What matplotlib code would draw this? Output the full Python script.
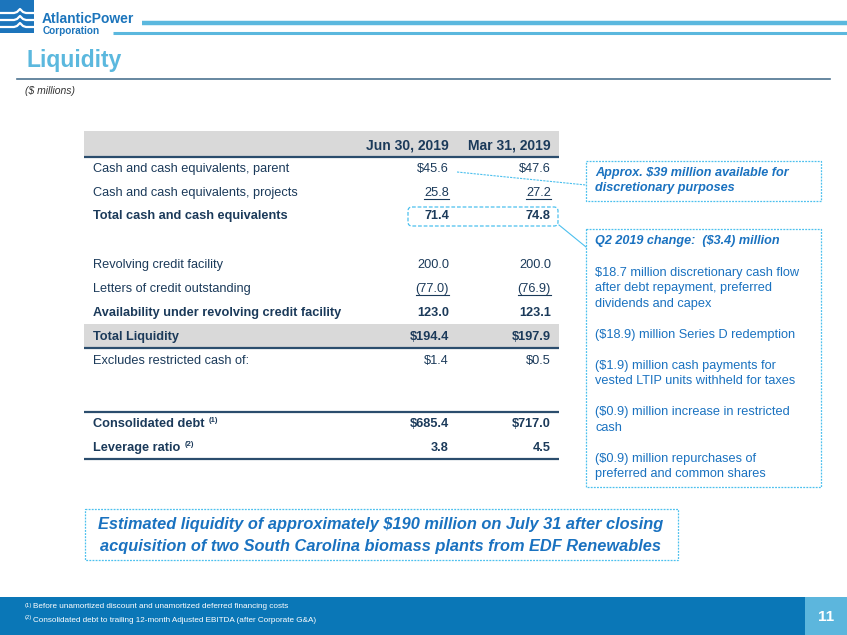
import matplotlib
matplotlib.use("Agg")
import matplotlib.pyplot as plt  # noqa: E402
from matplotlib.patches import Rectangle, FancyBboxPatch  # noqa: E402

plt.rcParams["font.family"] = ["Liberation Sans", "DejaVu Sans"]

# ---- data -------------------------------------------------------------
col_headers = ["Jun 30, 2019", "Mar 31, 2019"]
row_labels = [
    "Cash and cash equivalents, parent",
    "Cash and cash equivalents, projects",
    "Total cash and cash equivalents",
    "Revolving credit facility",
    "Letters of credit outstanding",
    "Availability under revolving credit facility",
    "Total Liquidity",
    "Excludes restricted cash of:",
    "Consolidated debt",
    "Leverage ratio",
]
row_notes = ["", "", "", "", "", "", "", "", "(1)", "(2)"]
jun_vals = ["$45.6", "25.8", "71.4", "200.0", "(77.0)", "123.0", "$194.4", "$1.4", "$685.4", "3.8"]
mar_vals = ["$47.6", "27.2", "74.8", "200.0", "(76.9)", "123.1", "$197.9", "$0.5", "$717.0", "4.5"]
row_bold = [False, False, True, False, False, True, True, False, True, True]
row_under = [False, True, False, False, True, False, False, False, False, False]

note1 = ["Approx. $39 million available for", "discretionary purposes"]
note2_head = "Q2 2019 change:  ($3.4) million"
note2_items = [
    ["$18.7 million discretionary cash flow", "after debt repayment, preferred", "dividends and capex"],
    ["($18.9) million Series D redemption"],
    ["($1.9) million cash payments for", "vested LTIP units withheld for taxes"],
    ["($0.9) million increase in restricted", "cash"],
    ["($0.9) million repurchases of", "preferred and common shares"],
]
banner = ["Estimated liquidity of approximately $190 million on July 31 after closing",
          "acquisition of two South Carolina biomass plants from EDF Renewables"]
footnotes = [("(1)", "Before unamortized discount and unamortized deferred financing costs"),
             ("(2)", "Consolidated debt to trailing 12-month Adjusted EBITDA (after Corporate G&A)")]
page_no = "11"

# ---- layout -----------------------------------------------------------
row_y = [169, 193, 216, 265, 289, 313, 337, 361, 424, 448]
NAVY = "#1b3a5a"
LINE = "#2b4d6d"
GREY = "#d9d9d9"
LIGHT = "#5bb8de"
BLUE = "#1c75bc"
CALL = "#1a72c0"
DASH = "#4cc0ee"

W, H = 847, 635
fig = plt.figure(figsize=(W / 100, H / 100), dpi=100)
ax = fig.add_axes([0, 0, 1, 1])
ax.set_xlim(0, W)
ax.set_ylim(H, 0)
ax.axis("off")

# logo
ax.add_patch(Rectangle((0, 0), 34, 33, color=BLUE, lw=0))
for yy in (13, 20, 27):
    ax.plot([0, 14, 17, 20, 23, 26, 34], [yy, yy, yy - 1, yy - 4, yy - 1, yy, yy],
            color="white", lw=1.6, solid_capstyle="butt")
ax.text(42, 19, "AtlanticPower", fontsize=10, fontweight="bold", color=BLUE,
        va="center", ha="left")
ax.text(43, 31, "Corporation", fontsize=7.2, fontweight="bold", color=BLUE,
        va="center", ha="left")
ax.plot([142, W], [22.5, 22.5], color=LIGHT, lw=3.2, solid_capstyle="butt")
ax.plot([113, W], [33, 33], color=LIGHT, lw=2.2, solid_capstyle="butt")

# title
ax.text(26, 61, "Liquidity", fontsize=16.5, fontweight="bold", color=LIGHT,
        va="center", ha="left")
ax.plot([17, 830], [79, 79], color="#4d7390", lw=1.2)
ax.text(25, 91, "($ millions)", fontsize=7.5, style="italic", color="#333333",
        va="center", ha="left")

# table
x0, x1 = 84, 559
xl, xj, xm = 93, 449, 551
ax.add_patch(Rectangle((x0, 131), x1 - x0, 25, color=GREY, lw=0))
ax.add_patch(Rectangle((x0, 324), x1 - x0, 24, color=GREY, lw=0))
for yy in (157, 348, 412, 459):
    ax.plot([x0, x1], [yy, yy], color=LINE, lw=1.6, solid_capstyle="butt")
ax.text(xj, 145, col_headers[0], fontsize=10, fontweight="bold", color=NAVY,
        ha="right", va="center")
ax.text(xm, 145, col_headers[1], fontsize=10, fontweight="bold", color=NAVY,
        ha="right", va="center")

fig.canvas.draw()
rend = fig.canvas.get_renderer()

for lab, note, jv, mv, b, u, yy in zip(row_labels, row_notes, jun_vals, mar_vals,
                                      row_bold, row_under, row_y):
    fw = "bold" if b else "normal"
    t = ax.text(xl, yy, lab, fontsize=9.2, fontweight=fw, color=NAVY, ha="left", va="center")
    if note:
        bb = t.get_window_extent(rend)
        ax.text(bb.x1 + 4, yy - 4, note, fontsize=5.5, fontweight="bold", color=NAVY,
                ha="left", va="center")
    for xv, v in ((xj, jv), (xm, mv)):
        tv = ax.text(xv, yy, v, fontsize=9.2, fontweight=fw, color=NAVY, ha="right", va="center")
        if u:
            bb = tv.get_window_extent(rend)
            ax.plot([bb.x0, bb.x1], [yy + 6, yy + 6], color=NAVY, lw=0.8)

# dashed highlight around totals
ax.add_patch(FancyBboxPatch((408, 207), 150, 19, boxstyle="round,pad=0,rounding_size=4",
                            fill=False, ec=DASH, lw=0.9, ls=(0, (3, 1.5))))

# callout boxes
ax.add_patch(Rectangle((586, 161), 235, 40, fill=False, ec=DASH, lw=0.9, ls=(0, (1.5, 1))))
ax.add_patch(Rectangle((586, 229), 235, 258, fill=False, ec=DASH, lw=0.9, ls=(0, (1.5, 1))))
ax.plot([457, 586], [172, 185], color=DASH, lw=0.8, ls=(0, (2, 1)))
ax.plot([559, 586], [225, 247], color=DASH, lw=0.8)

for i, line in enumerate(note1):
    ax.text(595, 173 + 15 * i, line, fontsize=9.1, fontweight="bold", style="italic",
            color=CALL, ha="left", va="center")
ax.text(595, 241, note2_head, fontsize=9.1, fontweight="bold", style="italic",
        color=CALL, ha="left", va="center")
yy = 273
for item in note2_items:
    for line in item:
        ax.text(595, yy, line, fontsize=9.2, color=CALL, ha="left", va="center")
        yy += 15.5
    yy += 15.5

# banner
ax.add_patch(Rectangle((85, 509), 593, 51, fill=False, ec=DASH, lw=0.9, ls=(0, (1.5, 1))))
for i, line in enumerate(banner):
    ax.text(381, 524 + 22 * i, line, fontsize=11.8, fontweight="bold", style="italic",
            color=CALL, ha="center", va="center")

# footer
ax.add_patch(Rectangle((0, 597), W, H - 597, color="#0a77b7", lw=0))
ax.add_patch(Rectangle((805, 597), W - 805, H - 597, color="#5cb6dd", lw=0))
ax.text(826, 617, page_no, fontsize=11, fontweight="bold", color="white",
        ha="center", va="center")
for i, (sup, txt) in enumerate(footnotes):
    yf = 607 + 13 * i
    ax.text(25, yf - 2, sup, fontsize=4.2, color="white", ha="left", va="center")
    ax.text(33, yf, txt, fontsize=5.9, color="white", ha="left", va="center")

fig.savefig("out.png", dpi=100, facecolor="white")
